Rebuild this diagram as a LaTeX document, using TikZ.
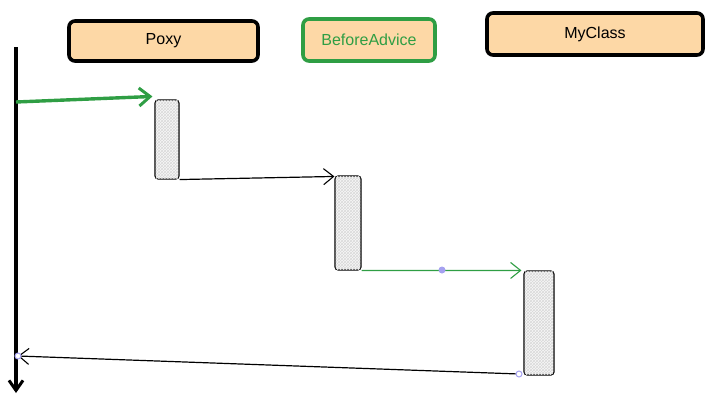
\documentclass[tikz,border=0pt]{standalone}
\usepackage{fontspec}
\setmainfont{Liberation Sans}
\usetikzlibrary{arrows.meta,patterns}
\definecolor{peach}{HTML}{FDD8A6}
\definecolor{exgreen}{HTML}{2F9E44}
\definecolor{lav}{HTML}{A5A1F0}
\tikzset{
  header/.style={draw=black, line width=3.6pt, rounded corners=6pt, fill=peach, font=\fontsize{16}{18}\selectfont, inner sep=0pt},
  act/.style={draw=black, line width=1.1pt, rounded corners=3pt, fill=gray!6},
  openarrow/.style={-{Straight Barb[length=10pt,width=16pt,line width=1.1pt]}},
  handle/.style={circle, draw=lav, fill=white, line width=1pt, inner sep=0pt, minimum size=6pt},
}
\begin{document}
\begin{tikzpicture}[x=1pt,y=-1pt]
\useasboundingbox (0,0) rectangle (711,415);
% headers
\node[header, minimum width=189pt, minimum height=40pt] (poxy) at (163.5,41) {Poxy};
\node[header, draw=exgreen, text=exgreen, minimum width=132pt, minimum height=42pt] (before) at (369,40) {BeforeAdvice};
\node[header, minimum width=216pt, minimum height=42pt] (myclass) at (595,34) {MyClass};
% lifeline
\coordinate (ltop) at (16,47);
\coordinate (lbot) at (16,393);
\draw[line width=3.6pt, -{Straight Barb[length=10pt,width=14pt,line width=3pt]}] (ltop) -- (lbot);
% activation boxes
\node[act, minimum width=24pt, minimum height=79pt, inner sep=0pt] (a1) at (167,139.5) {};
\node[act, minimum width=26pt, minimum height=94pt, inner sep=0pt] (a2) at (348,223) {};
\node[act, minimum width=30pt, minimum height=104pt, inner sep=0pt] (a3) at (539,323) {};
\foreach \n in {a1,a2,a3}{
  \fill[pattern=crosshatch, pattern color=gray!30] ([shift={(1.5,-1.5)}]\n.south west) rectangle ([shift={(-1.5,1.5)}]\n.north east);
}
% messages
\coordinate (m0) at (16,102);
\draw[exgreen, line width=3.4pt, -{Straight Barb[length=11pt,width=18pt,line width=3pt]}] (m0) -- ([xshift=-2pt,yshift=3pt]a1.north west);
\draw[black, line width=1.2pt, openarrow] (a1.south east) -- ([yshift=-1pt]a2.north west);
\coordinate (dot) at (442,270);
\draw[exgreen, line width=1.3pt, openarrow] (a2.south east) -- ([xshift=-2pt]a3.north west);
\fill[lav] (dot) circle (3.5pt);
\coordinate (rstart) at (519,374);
\coordinate (rend) at (18,356);
\draw[black, line width=1.2pt, openarrow] (rstart) -- (rend);
\node[handle] (h1) at (rstart) {};
\node[handle] (h2) at (rend) {};
\end{tikzpicture}
\end{document}
